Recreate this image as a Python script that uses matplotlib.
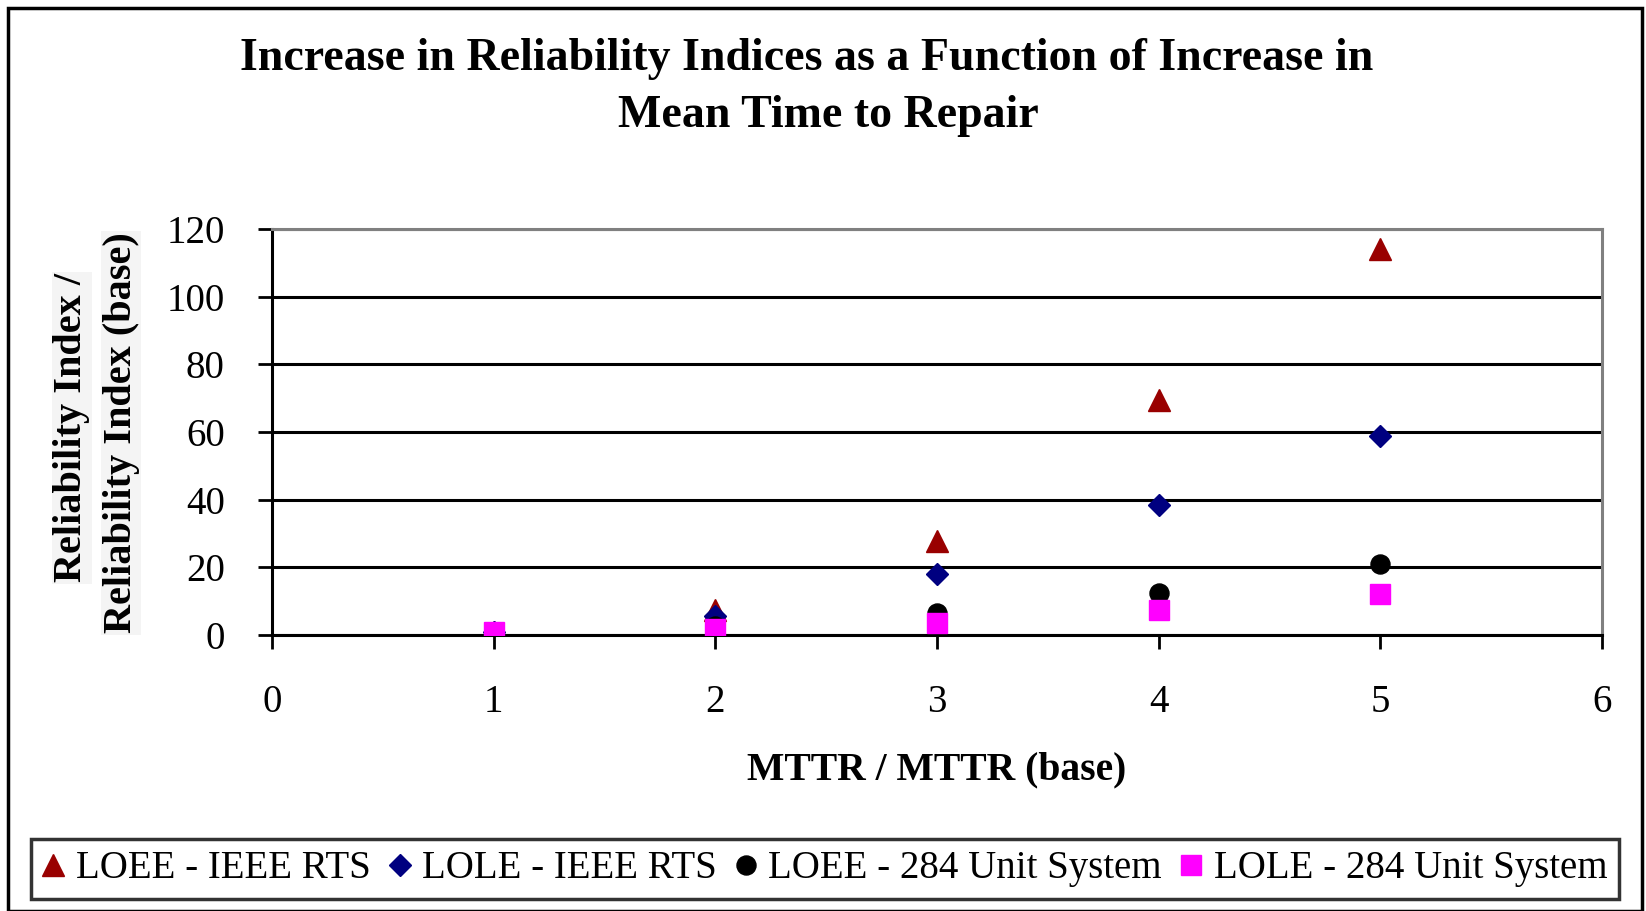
import matplotlib.pyplot as plt
from matplotlib.patches import Rectangle

# data
mttr = [1, 2, 3, 4, 5]
loee_ieee = [1, 7.5, 27.8, 69.6, 114.2]
lole_ieee = [1, 5.5, 18.0, 38.4, 58.8]
loee_284 = [1, 2.6, 6.6, 12.3, 21.1]
lole_284 = [1, 1.9, 3.5, 7.5, 12.2]

series_labels = ['LOEE - IEEE RTS', 'LOLE - IEEE RTS',
                 'LOEE - 284 Unit System', 'LOLE - 284 Unit System']
xticks = [0, 1, 2, 3, 4, 5, 6]
yticks = [0, 20, 40, 60, 80, 100, 120]

plt.rcParams['font.family'] = ['Liberation Serif', 'DejaVu Serif']

W, H = 1646, 911
fig = plt.figure(figsize=(W / 100, H / 100), dpi=100)
ax = fig.add_axes([272 / W, 1 - 635 / H, (1602 - 272) / W, (635 - 229) / H])

ax.plot(mttr, loee_ieee, ls='none', marker='^', ms=16.5, color='#990000',
        label=series_labels[0], zorder=3)
ax.plot(mttr, lole_ieee, ls='none', marker='D', ms=11.5, color='#000080',
        label=series_labels[1], zorder=3)
ax.plot(mttr, loee_284, ls='none', marker='o', ms=13.7, color='black',
        label=series_labels[2], zorder=3)
ax.plot(mttr, lole_284, ls='none', marker='s', ms=13.7, color='#ff00ff',
        label=series_labels[3], zorder=3)

ax.set_xlim(0, 6)
ax.set_ylim(0, 120)
ax.set_xticks(xticks)
ax.set_yticks(yticks)
ax.tick_params(axis='both', labelsize=28, length=10, width=2, direction='out',
               color='black')
ax.tick_params(axis='y', pad=24)
ax.tick_params(axis='x', pad=25)

ax.yaxis.grid(True, color='black', linewidth=2.2)
ax.set_axisbelow(True)
for s in ['left', 'bottom']:
    ax.spines[s].set_color('black')
    ax.spines[s].set_linewidth(2.2)
for s in ['top', 'right']:
    ax.spines[s].set_color('#808080')
    ax.spines[s].set_linewidth(2.2)

ax.set_xlabel('MTTR / MTTR (base)', fontsize=28.5, fontweight='bold', labelpad=22)

# y label in two lines with light backgrounds
fig.text(72 / W, 1 - 428 / H, 'Reliability Index /', rotation=90,
         fontsize=29, fontweight='bold', ha='center', va='center',
         bbox=dict(facecolor='#f4f4f4', edgecolor='none', pad=1))
fig.text(121 / W, 1 - 433 / H, 'Reliability Index (base)', rotation=90,
         fontsize=29, fontweight='bold', ha='center', va='center',
         bbox=dict(facecolor='#f4f4f4', edgecolor='none', pad=1))

# title
fig.text(807 / W, 1 - 70 / H, 'Increase in Reliability Indices as a Function of Increase in',
         fontsize=33, fontweight='bold', ha='center', va='baseline')
fig.text(828 / W, 1 - 127 / H, 'Mean Time to Repair',
         fontsize=33, fontweight='bold', ha='center', va='baseline')

leg = fig.legend(loc='lower left', mode='expand', ncol=4,
                 bbox_to_anchor=(31 / W, 1 - 899 / H, (1619 - 31) / W, (899 - 834) / H),
                 fontsize=28, frameon=True, fancybox=False, handlelength=0.55,
                 handletextpad=0.3, columnspacing=0.2, borderpad=0.3,
                 borderaxespad=0)
leg.get_frame().set_edgecolor('black')
leg.get_frame().set_linewidth(2.5)

# outer chart border
fig.patches.append(Rectangle((8 / W, 0), (1642 - 8) / W, 1 - 8 / H,
                             transform=fig.transFigure, fill=False,
                             edgecolor='black', linewidth=2.5))

fig.savefig('out.png', dpi=100)
